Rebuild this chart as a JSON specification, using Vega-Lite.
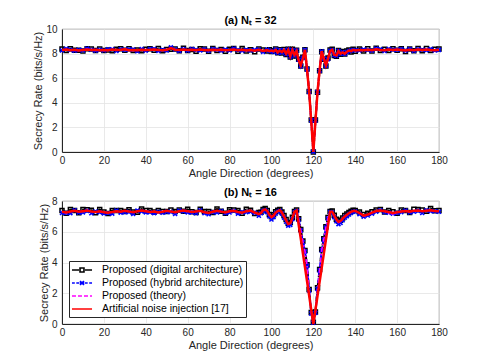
{
  "$schema": "https://vega.github.io/schema/vega-lite/v6.json",
  "padding": {"left": 32, "top": 14, "right": 33, "bottom": 4},
  "background": "white",
  "spacing": 7,
  "config": {
    "font": "Liberation Sans",
    "view": {"stroke": "#555555", "strokeWidth": 0.8},
    "axis": {"labelFontSize": 10, "labelColor": "#262626", "titleFontSize": 11, "titleFontWeight": "normal", "titleColor": "#262626", "gridColor": "#e3e3e3", "gridWidth": 0.8, "domainColor": "#262626", "ticks": false, "labelPadding": 5, "titlePadding": 2, "labelFlush": false},
    "axisX": {"labelPadding": 3},
    "title": {"fontSize": 11, "fontWeight": "bold", "color": "#000000", "offset": -2}
  },
  "resolve": {"legend": {"color": "independent"}},
  "datasets": {
    "top": [
      {"x":0,"r":8.30,"d":8.38,"h":8.25,"t":8.32},{"x":2,"r":8.33,"d":8.26,"h":8.39,"t":8.31},{"x":4,"r":8.28,"d":8.39,"h":8.30,"t":8.29},{"x":6,"r":8.31,"d":8.27,"h":8.23,"t":8.30},{"x":8,"r":8.26,"d":8.28,"h":8.30,"t":8.28},{"x":10,"r":8.30,"d":8.21,"h":8.25,"t":8.28},{"x":12,"r":8.34,"d":8.40,"h":8.40,"t":8.35},{"x":14,"r":8.29,"d":8.37,"h":8.31,"t":8.30},{"x":16,"r":8.32,"d":8.25,"h":8.24,"t":8.30},{"x":18,"r":8.27,"d":8.38,"h":8.31,"t":8.28},{"x":20,"r":8.30,"d":8.26,"h":8.25,"t":8.29},{"x":22,"r":8.28,"d":8.30,"h":8.34,"t":8.30},{"x":24,"r":8.33,"d":8.24,"h":8.35,"t":8.31},{"x":26,"r":8.29,"d":8.35,"h":8.21,"t":8.30},{"x":28,"r":8.31,"d":8.39,"h":8.35,"t":8.29},{"x":30,"r":8.35,"d":8.28,"h":8.30,"t":8.36},{"x":32,"r":8.28,"d":8.39,"h":8.34,"t":8.27},{"x":34,"r":8.30,"d":8.26,"h":8.32,"t":8.31},{"x":36,"r":8.27,"d":8.29,"h":8.19,"t":8.28},{"x":38,"r":8.32,"d":8.23,"h":8.36,"t":8.30},{"x":40,"r":8.29,"d":8.35,"h":8.24,"t":8.30},{"x":42,"r":8.31,"d":8.39,"h":8.37,"t":8.32},{"x":44,"r":8.34,"d":8.27,"h":8.36,"t":8.33},{"x":46,"r":8.30,"d":8.41,"h":8.22,"t":8.31},{"x":48,"r":8.27,"d":8.23,"h":8.31,"t":8.29},{"x":50,"r":8.31,"d":8.33,"h":8.26,"t":8.32},{"x":52,"r":8.45,"d":8.36,"h":8.51,"t":8.44},{"x":54,"r":8.32,"d":8.38,"h":8.34,"t":8.33},{"x":56,"r":8.30,"d":8.23,"h":8.22,"t":8.29},{"x":58,"r":8.33,"d":8.44,"h":8.37,"t":8.32},{"x":60,"r":8.29,"d":8.25,"h":8.24,"t":8.30},{"x":62,"r":8.31,"d":8.33,"h":8.37,"t":8.30},{"x":64,"r":8.28,"d":8.19,"h":8.30,"t":8.29},{"x":66,"r":8.33,"d":8.39,"h":8.25,"t":8.32},{"x":68,"r":8.30,"d":8.38,"h":8.34,"t":8.31},{"x":70,"r":8.27,"d":8.20,"h":8.22,"t":8.28},{"x":72,"r":8.31,"d":8.42,"h":8.37,"t":8.30},{"x":74,"r":8.29,"d":8.25,"h":8.31,"t":8.30},{"x":76,"r":8.32,"d":8.34,"h":8.24,"t":8.33},{"x":78,"r":8.28,"d":8.19,"h":8.32,"t":8.27},{"x":80,"r":8.30,"d":8.36,"h":8.25,"t":8.31},{"x":82,"r":8.34,"d":8.42,"h":8.40,"t":8.33},{"x":84,"r":8.27,"d":8.20,"h":8.29,"t":8.28},{"x":86,"r":8.31,"d":8.42,"h":8.23,"t":8.30},{"x":88,"r":8.26,"d":8.22,"h":8.30,"t":8.27},{"x":90,"r":8.30,"d":8.32,"h":8.25,"t":8.29},{"x":92,"r":8.24,"d":8.15,"h":8.30,"t":8.25},{"x":94,"r":8.31,"d":8.37,"h":8.33,"t":8.30},{"x":96,"r":8.22,"d":8.30,"h":8.14,"t":8.23},{"x":98,"r":8.28,"d":8.21,"h":8.32,"t":8.27},
      {"x":99,"r":8.20,"d":8.31,"h":8.22,"t":8.21},{"x":100,"r":8.25,"d":8.18,"h":8.20,"t":8.24},{"x":101,"r":8.18,"d":8.23,"h":8.14,"t":8.19},{"x":102,"r":8.30,"d":8.38,"h":8.33,"t":8.29},{"x":103,"r":8.10,"d":8.06,"h":8.05,"t":8.12},{"x":104,"r":8.25,"d":8.32,"h":8.28,"t":8.24},{"x":105,"r":8.12,"d":8.05,"h":8.08,"t":8.13},{"x":106,"r":8.30,"d":8.34,"h":8.26,"t":8.29},{"x":107,"r":8.00,"d":7.92,"h":7.95,"t":8.02},{"x":108,"r":8.30,"d":8.36,"h":8.33,"t":8.28},{"x":109,"r":7.80,"d":7.72,"h":7.75,"t":7.82},{"x":110,"r":8.30,"d":8.35,"h":8.28,"t":8.29},{"x":111,"r":7.90,"d":7.80,"h":7.85,"t":7.92},{"x":112,"r":8.20,"d":8.28,"h":8.25,"t":8.19},{"x":113,"r":7.45,"d":7.55,"h":7.50,"t":7.47},{"x":114,"r":7.05,"d":7.00,"h":6.98,"t":7.08},{"x":115,"r":7.60,"d":7.70,"h":7.65,"t":7.62},{"x":116,"r":8.30,"d":8.32,"h":8.30,"t":8.28},{"x":117,"r":6.70,"d":6.75,"h":6.72,"t":6.72},{"x":118,"r":4.90,"d":4.92,"h":4.90,"t":4.95},{"x":119,"r":2.50,"d":2.60,"h":2.58,"t":2.55},{"x":120,"r":0.00,"d":0.00,"h":0.02,"t":0.02},{"x":121,"r":2.50,"d":2.60,"h":2.56,"t":2.55},{"x":122,"r":4.90,"d":4.85,"h":4.88,"t":4.92},{"x":123,"r":6.65,"d":6.60,"h":6.62,"t":6.68},{"x":124,"r":8.20,"d":8.15,"h":8.18,"t":8.20},{"x":125,"r":7.60,"d":7.55,"h":7.58,"t":7.62},{"x":126,"r":7.05,"d":7.00,"h":7.02,"t":7.08},{"x":127,"r":7.60,"d":7.65,"h":7.55,"t":7.62},{"x":128,"r":8.20,"d":8.30,"h":8.22,"t":8.18},{"x":129,"r":8.30,"d":8.35,"h":8.28,"t":8.29},{"x":130,"r":7.90,"d":7.85,"h":7.88,"t":7.92},{"x":131,"r":7.85,"d":7.78,"h":7.82,"t":7.87},{"x":132,"r":8.20,"d":8.25,"h":8.22,"t":8.19},{"x":133,"r":8.00,"d":7.95,"h":7.98,"t":8.02},{"x":134,"r":8.10,"d":8.18,"h":8.12,"t":8.09},{"x":135,"r":8.00,"d":7.96,"h":7.98,"t":8.02},{"x":136,"r":8.15,"d":8.22,"h":8.12,"t":8.14},{"x":137,"r":8.25,"d":8.30,"h":8.20,"t":8.24},{"x":138,"r":8.20,"d":8.12,"h":8.25,"t":8.21},{"x":139,"r":8.30,"d":8.36,"h":8.28,"t":8.29},{"x":140,"r":8.25,"d":8.20,"h":8.27,"t":8.26},
      {"x":142,"r":8.30,"d":8.38,"h":8.26,"t":8.31},{"x":144,"r":8.27,"d":8.21,"h":8.33,"t":8.28},{"x":146,"r":8.32,"d":8.40,"h":8.29,"t":8.31},{"x":148,"r":8.28,"d":8.22,"h":8.24,"t":8.29},{"x":150,"r":8.36,"d":8.43,"h":8.40,"t":8.35},{"x":152,"r":8.30,"d":8.26,"h":8.35,"t":8.31},{"x":154,"r":8.27,"d":8.36,"h":8.22,"t":8.28},{"x":156,"r":8.33,"d":8.26,"h":8.37,"t":8.32},{"x":158,"r":8.29,"d":8.39,"h":8.31,"t":8.30},{"x":160,"r":8.34,"d":8.28,"h":8.30,"t":8.33},{"x":162,"r":8.30,"d":8.40,"h":8.37,"t":8.29},{"x":164,"r":8.26,"d":8.18,"h":8.24,"t":8.27},{"x":166,"r":8.32,"d":8.38,"h":8.36,"t":8.31},{"x":168,"r":8.28,"d":8.23,"h":8.22,"t":8.29},{"x":170,"r":8.33,"d":8.41,"h":8.35,"t":8.32},{"x":172,"r":8.29,"d":8.24,"h":8.31,"t":8.30},{"x":174,"r":8.34,"d":8.42,"h":8.28,"t":8.33},{"x":176,"r":8.30,"d":8.25,"h":8.36,"t":8.31},{"x":178,"r":8.27,"d":8.36,"h":8.25,"t":8.28},{"x":180,"r":8.32,"d":8.38,"h":8.30,"t":8.31}
    ],
    "bot": [
      {"x":0,"r":7.30,"d":7.39,"h":7.22,"t":7.32},{"x":2,"r":7.25,"d":7.21,"h":7.23,"t":7.22},{"x":4,"r":7.32,"d":7.44,"h":7.21,"t":7.33},{"x":6,"r":7.36,"d":7.38,"h":7.40,"t":7.35},{"x":8,"r":7.30,"d":7.24,"h":7.24,"t":7.32},{"x":10,"r":7.34,"d":7.44,"h":7.26,"t":7.31},{"x":12,"r":7.38,"d":7.43,"h":7.36,"t":7.39},{"x":14,"r":7.31,"d":7.40,"h":7.20,"t":7.30},{"x":16,"r":7.28,"d":7.24,"h":7.32,"t":7.30},{"x":18,"r":7.33,"d":7.45,"h":7.27,"t":7.30},{"x":20,"r":7.27,"d":7.29,"h":7.19,"t":7.28},{"x":22,"r":7.24,"d":7.18,"h":7.22,"t":7.23},{"x":24,"r":7.29,"d":7.39,"h":7.18,"t":7.31},{"x":26,"r":7.34,"d":7.39,"h":7.38,"t":7.31},{"x":28,"r":7.30,"d":7.39,"h":7.24,"t":7.31},{"x":30,"r":7.36,"d":7.32,"h":7.28,"t":7.35},{"x":32,"r":7.31,"d":7.43,"h":7.29,"t":7.33},{"x":34,"r":7.27,"d":7.29,"h":7.16,"t":7.24},{"x":36,"r":7.33,"d":7.27,"h":7.37,"t":7.34},{"x":38,"r":7.38,"d":7.48,"h":7.32,"t":7.37},{"x":40,"r":7.34,"d":7.39,"h":7.26,"t":7.36},{"x":42,"r":7.29,"d":7.38,"h":7.27,"t":7.26},{"x":44,"r":7.32,"d":7.28,"h":7.21,"t":7.33},{"x":46,"r":7.26,"d":7.38,"h":7.30,"t":7.25},{"x":48,"r":7.30,"d":7.32,"h":7.24,"t":7.32},{"x":50,"r":7.37,"d":7.31,"h":7.29,"t":7.34},{"x":52,"r":7.31,"d":7.41,"h":7.29,"t":7.32},{"x":54,"r":7.27,"d":7.32,"h":7.16,"t":7.26},{"x":56,"r":7.33,"d":7.42,"h":7.37,"t":7.35},{"x":58,"r":7.38,"d":7.34,"h":7.32,"t":7.35},{"x":60,"r":7.34,"d":7.46,"h":7.26,"t":7.35},{"x":62,"r":7.28,"d":7.30,"h":7.26,"t":7.27},{"x":64,"r":7.31,"d":7.25,"h":7.20,"t":7.33},{"x":66,"r":7.36,"d":7.46,"h":7.40,"t":7.33},{"x":68,"r":7.27,"d":7.32,"h":7.21,"t":7.28},{"x":70,"r":7.22,"d":7.31,"h":7.14,"t":7.21},{"x":72,"r":7.30,"d":7.26,"h":7.28,"t":7.32},{"x":74,"r":7.36,"d":7.48,"h":7.25,"t":7.33},{"x":76,"r":7.31,"d":7.33,"h":7.35,"t":7.32},{"x":78,"r":7.26,"d":7.20,"h":7.20,"t":7.25},{"x":80,"r":7.33,"d":7.43,"h":7.25,"t":7.35},{"x":82,"r":7.37,"d":7.42,"h":7.35,"t":7.34},{"x":84,"r":7.29,"d":7.38,"h":7.18,"t":7.30},{"x":86,"r":7.24,"d":7.20,"h":7.28,"t":7.23},{"x":88,"r":7.34,"d":7.46,"h":7.28,"t":7.36},{"x":90,"r":7.38,"d":7.40,"h":7.30,"t":7.35},{"x":92,"r":7.25,"d":7.19,"h":7.23,"t":7.26},{"x":94,"r":7.15,"d":7.25,"h":7.04,"t":7.14},
      {"x":95,"r":7.22,"d":7.27,"h":7.20,"t":7.24},{"x":96,"r":7.40,"d":7.45,"h":7.34,"t":7.41},{"x":97,"r":7.45,"d":7.52,"h":7.40,"t":7.44},{"x":98,"r":7.35,"d":7.38,"h":7.28,"t":7.36},{"x":99,"r":7.10,"d":7.12,"h":7.00,"t":7.08},{"x":100,"r":6.95,"d":6.98,"h":6.80,"t":6.92},{"x":101,"r":7.05,"d":7.10,"h":6.95,"t":7.03},{"x":102,"r":7.25,"d":7.30,"h":7.18,"t":7.24},{"x":103,"r":7.35,"d":7.40,"h":7.30,"t":7.34},{"x":104,"r":7.40,"d":7.45,"h":7.36,"t":7.39},{"x":105,"r":7.25,"d":7.28,"h":7.18,"t":7.24},{"x":106,"r":7.00,"d":7.05,"h":6.92,"t":6.98},{"x":107,"r":6.75,"d":6.80,"h":6.65,"t":6.72},{"x":108,"r":6.50,"d":6.55,"h":6.40,"t":6.48},{"x":109,"r":6.55,"d":6.60,"h":6.45,"t":6.52},{"x":110,"r":6.90,"d":6.95,"h":6.82,"t":6.88},{"x":111,"r":7.30,"d":7.32,"h":7.25,"t":7.28},{"x":112,"r":7.38,"d":7.42,"h":7.35,"t":7.37},{"x":113,"r":6.45,"d":6.85,"h":6.78,"t":6.80},{"x":114,"r":5.55,"d":6.15,"h":6.08,"t":6.10},{"x":115,"r":4.62,"d":5.40,"h":5.32,"t":5.35},{"x":116,"r":3.70,"d":4.78,"h":4.72,"t":4.75},{"x":117,"r":2.78,"d":3.85,"h":3.78,"t":3.80},{"x":118,"r":1.85,"d":2.25,"h":2.18,"t":2.20},{"x":119,"r":0.92,"d":0.75,"h":0.68,"t":0.70},{"x":120,"r":0.00,"d":0.12,"h":0.08,"t":0.05},{"x":121,"r":0.91,"d":0.78,"h":0.72,"t":0.75},{"x":122,"r":1.83,"d":2.35,"h":2.28,"t":2.30},{"x":123,"r":2.74,"d":3.55,"h":3.48,"t":3.50},{"x":124,"r":3.65,"d":4.85,"h":4.78,"t":4.80},{"x":125,"r":4.56,"d":5.55,"h":5.48,"t":5.50},{"x":126,"r":5.48,"d":6.32,"h":6.25,"t":6.28},{"x":127,"r":6.40,"d":6.92,"h":6.85,"t":6.88},{"x":128,"r":7.30,"d":7.32,"h":7.28,"t":7.30},{"x":129,"r":7.30,"d":7.35,"h":7.25,"t":7.28},{"x":130,"r":7.05,"d":7.08,"h":6.95,"t":7.02},{"x":131,"r":6.80,"d":6.82,"h":6.68,"t":6.76},{"x":132,"r":6.65,"d":6.70,"h":6.50,"t":6.60},{"x":133,"r":6.70,"d":6.75,"h":6.58,"t":6.66},{"x":134,"r":6.85,"d":6.90,"h":6.75,"t":6.82},{"x":135,"r":7.00,"d":7.05,"h":6.92,"t":6.98},{"x":136,"r":7.10,"d":7.15,"h":7.02,"t":7.08},{"x":137,"r":7.20,"d":7.25,"h":7.12,"t":7.18},{"x":138,"r":7.30,"d":7.34,"h":7.22,"t":7.28},{"x":139,"r":7.35,"d":7.40,"h":7.30,"t":7.34},{"x":140,"r":7.35,"d":7.38,"h":7.32,"t":7.36},
      {"x":142,"r":7.22,"d":7.28,"h":7.15,"t":7.20},{"x":144,"r":7.05,"d":7.12,"h":6.98,"t":7.02},{"x":146,"r":7.12,"d":7.20,"h":7.06,"t":7.10},{"x":148,"r":7.25,"d":7.30,"h":7.18,"t":7.24},{"x":150,"r":7.35,"d":7.42,"h":7.30,"t":7.33},{"x":152,"r":7.38,"d":7.44,"h":7.40,"t":7.36},{"x":154,"r":7.33,"d":7.28,"h":7.27,"t":7.34},{"x":156,"r":7.28,"d":7.38,"h":7.24,"t":7.20},{"x":158,"r":7.22,"d":7.30,"h":7.18,"t":7.15},{"x":160,"r":7.27,"d":7.20,"h":7.23,"t":7.25},{"x":162,"r":7.32,"d":7.42,"h":7.28,"t":7.33},{"x":164,"r":7.35,"d":7.39,"h":7.38,"t":7.34},{"x":166,"r":7.31,"d":7.25,"h":7.25,"t":7.30},{"x":168,"r":7.36,"d":7.46,"h":7.30,"t":7.37},{"x":170,"r":7.38,"d":7.44,"h":7.36,"t":7.36},{"x":172,"r":7.33,"d":7.42,"h":7.22,"t":7.34},{"x":174,"r":7.37,"d":7.33,"h":7.39,"t":7.38},{"x":176,"r":7.40,"d":7.52,"h":7.34,"t":7.38},{"x":178,"r":7.35,"d":7.37,"h":7.33,"t":7.36},{"x":180,"r":7.33,"d":7.38,"h":7.30,"t":7.34}
    ]
  },
  "vconcat": [
    {
      "title": "(a) Nₜ = 32",
      "width": 377, "height": 123,
      "data": {"name": "top"},
      "transform": [{"fold": ["d", "h", "t", "r"], "as": ["s", "v"]}],
      "encoding": {
        "x": {"field": "x", "type": "quantitative", "scale": {"domain": [0, 180], "nice": false}, "axis": {"values": [0,20,40,60,80,100,120,140,160,180], "title": "Angle Direction (degrees)"}},
        "y": {"field": "v", "type": "quantitative", "scale": {"domain": [0, 10], "nice": false}, "axis": {"values": [0,2,4,6,8,10], "title": "Secrecy Rate (bits/s/Hz)"}},
        "color": {"field": "s", "type": "nominal", "scale": {"domain": ["d", "h", "t", "r"], "range": ["#000000", "#0000ff", "#ff00ff", "#ff0000"]}, "legend": null}
      },
      "layer": [
        {"transform": [{"filter": "datum.s == 'd'"}], "mark": {"type": "line", "strokeWidth": 2, "strokeDash": [5, 3]}},
        {"transform": [{"filter": "datum.s == 'd'"}], "mark": {"type": "point", "shape": "square", "size": 16, "filled": false, "strokeWidth": 1.5, "opacity": 1}},
        {"transform": [{"filter": "datum.s == 'h'"}], "mark": {"type": "line", "strokeWidth": 2, "strokeDash": [5, 3]}},
        {"transform": [{"filter": "datum.s == 'h'"}], "mark": {"type": "point", "shape": "M-1,-1L1,1M-1,1L1,-1", "size": 16, "filled": false, "strokeWidth": 1.6, "opacity": 1}},
        {"transform": [{"filter": "datum.s == 't'"}], "mark": {"type": "line", "strokeWidth": 1.5, "strokeDash": [5, 2, 1.5, 2]}},
        {"transform": [{"filter": "datum.s == 'r'"}], "mark": {"type": "line", "strokeWidth": 2.5}}
      ]
    },
    {
      "title": "(b) Nₜ = 16",
      "width": 377, "height": 123,
      "data": {"name": "bot"},
      "transform": [{"fold": ["d", "h", "t", "r"], "as": ["s", "v"]}],
      "encoding": {
        "x": {"field": "x", "type": "quantitative", "scale": {"domain": [0, 180], "nice": false}, "axis": {"values": [0,20,40,60,80,100,120,140,160,180], "title": "Angle Direction (degrees)"}},
        "y": {"field": "v", "type": "quantitative", "scale": {"domain": [0, 8], "nice": false}, "axis": {"values": [0,2,4,6,8], "title": "Secrecy Rate (bits/s/Hz)"}},
        "color": {"field": "s", "type": "nominal", "scale": {"domain": ["d", "h", "t", "r"], "range": ["#000000", "#0000ff", "#ff00ff", "#ff0000"]},
          "legend": {
            "title": null, "orient": "bottom-left", "offset": 7,
            "labelExpr": "datum.value == 'd' ? 'Proposed (digital architecture)' : datum.value == 'h' ? 'Proposed (hybrid architecture)' : datum.value == 't' ? 'Proposed (theory)' : 'Artificial noise injection [17]'",
            "labelFontSize": 10.5, "labelColor": "#000000", "labelFont": "Liberation Sans",
            "symbolSize": 144, "symbolStrokeWidth": 1.6, "symbolType": "stroke", "symbolOffset": 4,
            "strokeColor": "#262626", "fillColor": "white", "padding": 2, "rowPadding": 0, "labelOffset": 13,
            "encoding": {"symbols": {
              "shape": {"value": {"expr": "datum.value == 'd' ? 'M-1.67,0H-0.5M0.5,0H1.67M-0.33,-0.33H0.33V0.33H-0.33Z' : datum.value == 'h' ? 'M-1.67,0H-1.2M-0.95,0H-0.5M0.5,0H0.95M1.2,0H1.67M-0.33,-0.33L0.33,0.33M-0.33,0.33L0.33,-0.33M-0.4,0H0.4' : 'M-1.67,0H1.67'"}},
              "strokeDash": {"value": {"expr": "datum.value == 't' ? [4, 2] : [1, 0]"}},
              "fill": {"value": "transparent"}
            }}
          }
        }
      },
      "layer": [
        {"transform": [{"filter": "datum.s == 'd'"}], "mark": {"type": "line", "strokeWidth": 2, "strokeDash": [5, 3]}},
        {"transform": [{"filter": "datum.s == 'd'"}], "mark": {"type": "point", "shape": "square", "size": 16, "filled": false, "strokeWidth": 1.5, "opacity": 1}},
        {"transform": [{"filter": "datum.s == 'h'"}], "mark": {"type": "line", "strokeWidth": 2, "strokeDash": [5, 3]}},
        {"transform": [{"filter": "datum.s == 'h'"}], "mark": {"type": "point", "shape": "M-1,-1L1,1M-1,1L1,-1", "size": 16, "filled": false, "strokeWidth": 1.6, "opacity": 1}},
        {"transform": [{"filter": "datum.s == 't'"}], "mark": {"type": "line", "strokeWidth": 1.5, "strokeDash": [5, 2, 1.5, 2]}},
        {"transform": [{"filter": "datum.s == 'r'"}], "mark": {"type": "line", "strokeWidth": 2.5}}
      ]
    }
  ]
}
